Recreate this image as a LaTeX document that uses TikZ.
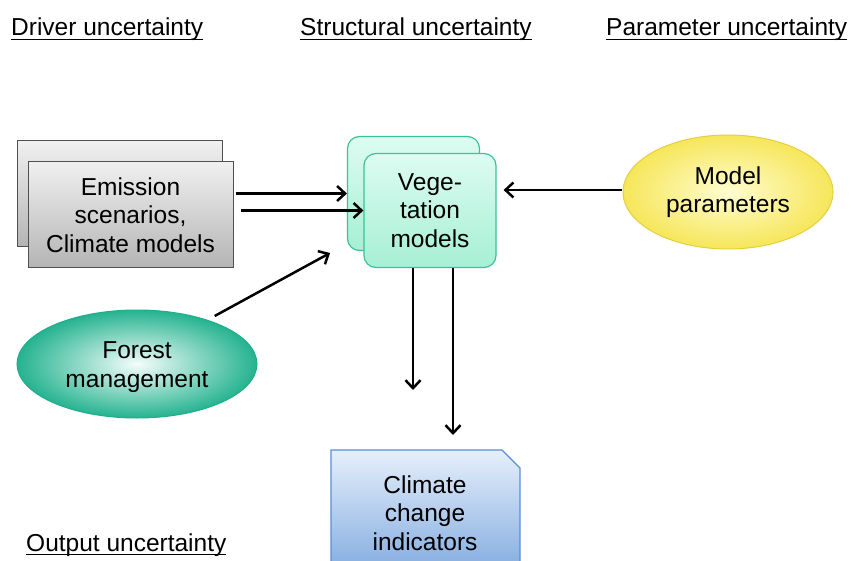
\documentclass[tikz,border=0pt]{standalone}
\usepackage{fontspec}
\setmainfont{Liberation Sans}
\usetikzlibrary{shapes.geometric,arrows.meta,calc}
\newcommand{\myul}[1]{\setbox0\hbox{#1}\rlap{\vrule height -2.6pt depth 4.2pt width \wd0}\box0}
\definecolor{embord}{HTML}{505050}
\definecolor{emtop}{HTML}{F0F0F0}
\definecolor{embot}{HTML}{B4B4B4}
\definecolor{vgbord}{HTML}{3CC19A}
\definecolor{vgtop}{HTML}{DDFCF1}
\definecolor{vgbot}{HTML}{A6EFD5}
\definecolor{fmbord}{HTML}{1FAE8A}
\definecolor{fmin}{HTML}{F4FDFA}
\definecolor{fmout}{HTML}{25B390}
\definecolor{mpbord}{HTML}{E6CF3C}
\definecolor{mpin}{HTML}{FFFDD0}
\definecolor{mpout}{HTML}{F6E65A}
\definecolor{ccbord}{HTML}{5A8ED6}
\definecolor{cctop}{HTML}{E6EFFB}
\definecolor{ccbot}{HTML}{8CB2E2}
\begin{document}
\begin{tikzpicture}[x=1pt,y=-1pt,
  lbl/.style={font=\fontsize{24.5}{28.5}\selectfont, align=center},
  hdr/.style={font=\fontsize{24.5}{28.5}\selectfont, anchor=base west, inner sep=0},
  emisbox/.style={draw=embord, line width=1pt, top color=emtop, bottom color=embot, minimum width=205, minimum height=106, inner sep=0},
  vegbox/.style={draw=vgbord, line width=1.2pt, top color=vgtop, bottom color=vgbot, rounded corners=12pt, minimum width=132, minimum height=114, inner sep=0},
  arr/.style={line width=2.5pt, -{Straight Barb[length=8pt,width=15pt]}}
]
\useasboundingbox (0,0) rectangle (851,561);
\fill[white] (0,0) rectangle (851,561);

% headers
\node[hdr] (hdrdriver) at (11,36) {\myul{Driver uncertainty}};
\node[hdr] (hdrstruct) at (300,36) {\myul{Structural uncertainty}};
\node[hdr] (hdrparam) at (606,36) {\myul{Parameter uncertainty}};
\node[hdr] (hdrout) at (26,551) {\myul{Output uncertainty}};

% emission boxes
\node[emisbox] (emisback) at (120,194) {};
\node[emisbox, lbl] (emisfront) at (130.5,215) {Emission\\scenarios,\\Climate models};

% vegetation boxes
\node[vegbox] (vegback) at (413.5,193.5) {};
\node[vegbox, lbl] (vegfront) at (430,210.5) {Vege-\\tation\\models};

% model parameters
\node[ellipse, draw=mpbord, line width=1pt, inner color=mpin, outer color=mpout,
      minimum width=210, minimum height=114, inner sep=0, lbl] (param) at (728,192) {Model\\parameters};

% forest management
\node[ellipse, draw=fmbord, line width=1pt, inner color=fmin, outer color=fmout,
      minimum width=240, minimum height=108, inner sep=0, lbl] (forest) at (137,364) {};
\node[lbl] (forestlbl) at ([yshift=-3pt]forest.center) {Forest\\management};

% climate change indicators
\shade[top color=cctop, bottom color=ccbot] (331,450) -- (502,450) -- (520,468) -- (520,561) -- (331,561) -- cycle;
\draw[ccbord, line width=1.2pt] (331,561) -- (331,450) -- (502,450) -- (520,468) -- (520,561);
\node[lbl] (indic) at (425,513) {Climate\\change\\indicators};

% free ends
\coordinate (fmend) at (330,253);
\coordinate (d1end) at (413,390);
\coordinate (d2end) at (453,435);

% arrows
\draw[arr] ([xshift=2pt]emisfront.east |- vegback.west) -- (vegback.west);
\draw[arr] ([xshift=7pt]emisfront.east |- vegfront.west) -- (vegfront.west);
\draw[arr] ([xshift=-1pt]param.west |- 0,190) -- ([xshift=7pt]vegfront.east |- 0,190);
\draw[arr, shorten <=8pt] (forest.32) -- (fmend);
\draw[arr] ([xshift=-17pt]vegfront.south) -- (d1end);
\draw[arr] ([xshift=23pt]vegfront.south) -- (d2end);
\end{tikzpicture}
\end{document}
